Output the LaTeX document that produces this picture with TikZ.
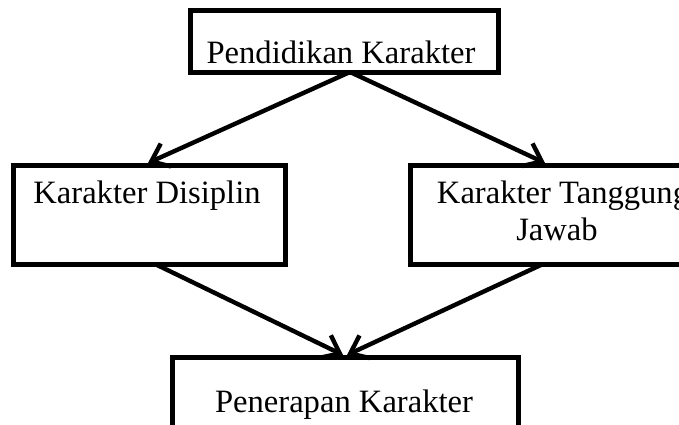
\documentclass[tikz,border=0pt]{standalone}
\usepackage{fontspec}
\setmainfont{Liberation Serif}
\usetikzlibrary{arrows.meta,calc}
\begin{document}
\begin{tikzpicture}[x=0.5pt,y=-0.5pt,
  boxframe/.style={draw=black,line width=2.5pt,fill=white,inner sep=0pt,outer sep=0pt},
  boxtext/.style={anchor=base,inner sep=0pt,font=\fontsize{16.3}{18}\selectfont},
  link/.style={line width=2.2pt,-{Straight Barb[length=8pt,width=12.5pt,line width=2.2pt]}}]
\useasboundingbox (0,0) rectangle (679,424);
\begin{scope}
\clip (0,0) rectangle (679,424);
% boxes
\node[boxframe,minimum width=154pt,minimum height=31pt] (top) at (344,41) {};
\node[boxframe,minimum width=136pt,minimum height=49.5pt] (lbox) at (149,214.5) {};
\node[boxframe,minimum width=148pt,minimum height=49.5pt] (rbox) at (558,214.5) {};
\node[boxframe,minimum width=173pt,minimum height=52pt] (bbox) at (345,409) {};
% texts
\node[boxtext] (toptext) at (341,63) {Pendidikan Karakter};
\node[boxtext] (ltext) at (147,203) {Karakter Disiplin};
\node[boxtext] (rtext1) at (563,203) {Karakter Tanggung};
\node[boxtext] (rtext2) at (557,240) {Jawab};
\node[boxtext] (btext) at (344,412) {Penerapan Karakter};
% connectors
\coordinate (topout) at ($(top.south)+(6,0)$);
\draw[link] (topout) -- ($(lbox.north)+(-1,-2)$);
\draw[link] (topout) -- ($(rbox.north)+(-13,-2)$);
\draw[link] ($(lbox.south)+(6,0)$) -- ($(bbox.north)+(-2,-2)$);
\draw[link] ($(rbox.south)+(-15,0)$) -- ($(bbox.north)+(2,-2)$);
\end{scope}
\end{tikzpicture}
\end{document}
